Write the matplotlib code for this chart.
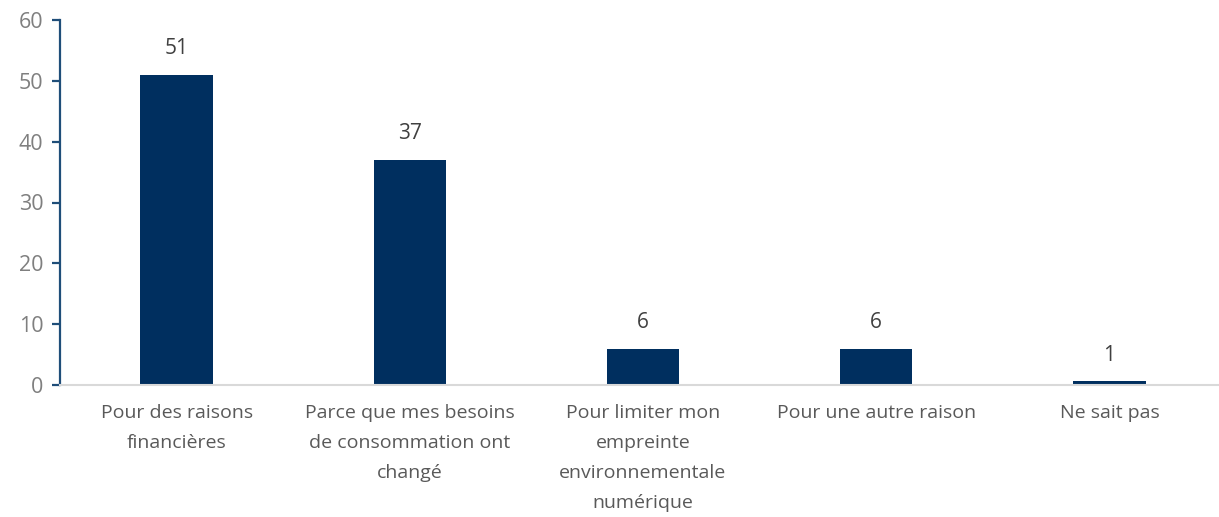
import matplotlib.pyplot as plt

categories = [
    "Pour des raisons\nfinancières",
    "Parce que mes besoins\nde consommation ont\nchangé",
    "Pour limiter mon\nempreinte\nenvironnementale\nnumérique",
    "Pour une autre raison",
    "Ne sait pas",
]
values = [51, 37, 6, 6, 0.6]
value_labels = ["51", "37", "6", "6", "1"]

plt.rcParams['font.family'] = ['Open Sans', 'DejaVu Sans']

fig = plt.figure(figsize=(12.19, 5.17), dpi=100)
ax = fig.add_axes([60 / 1219, 1 - 385 / 517, 1 - 60 / 1219, 365 / 517])

x = range(len(categories))
ax.bar(x, values, width=0.31, color='#002F5F')

for xi, v, lab in zip(x, values, value_labels):
    ax.text(xi, v + 2.6, lab, ha='center', va='bottom', fontsize=15, color='#404040')

ax.set_ylim(0, 60)
ax.set_xlim(-0.5, 4.47)
ax.set_yticks(range(0, 61, 10))
ax.set_xticks(list(x))
ax.set_xticklabels(categories, fontsize=14, color='#595959', linespacing=1.85)

for s in ['top', 'right']:
    ax.spines[s].set_visible(False)
ax.spines['left'].set_color('#1F4E79')
ax.spines['left'].set_linewidth(1.6)
ax.spines['bottom'].set_color('#D9D9D9')
ax.spines['bottom'].set_linewidth(1.5)

ax.tick_params(axis='y', colors='#1F4E79', labelcolor='#7F7F7F', labelsize=15.5,
               length=6, width=1.6, direction='out', pad=6)
ax.tick_params(axis='x', length=0, pad=14)

plt.savefig('out.png', dpi=100)
